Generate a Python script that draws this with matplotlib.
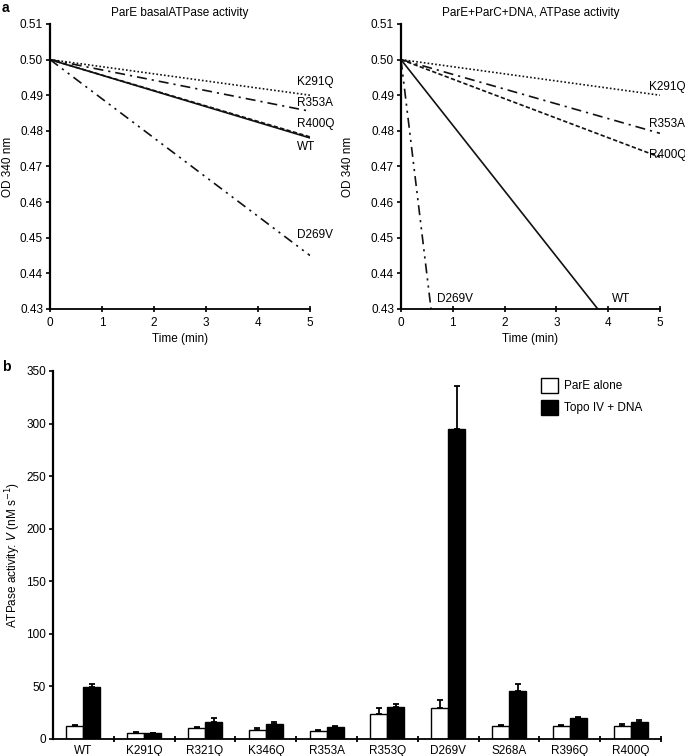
import numpy as np
import matplotlib
matplotlib.use("Agg")
import matplotlib.pyplot as plt

plt.rcParams['font.family'] = ['Liberation Sans', 'DejaVu Sans']
plt.rcParams['font.size'] = 8.5

# panel a data: OD 340 nm vs time (start / end points of each trace)
mutants_a = ['K291Q', 'R353A', 'R400Q', 'WT', 'D269V']
basal_t = {'K291Q': [0, 5], 'R353A': [0, 5], 'R400Q': [0, 5], 'WT': [0, 5], 'D269V': [0, 5]}
basal_od = {'K291Q': [0.50, 0.490], 'R353A': [0.50, 0.4855], 'R400Q': [0.50, 0.4783],
            'WT': [0.50, 0.478], 'D269V': [0.50, 0.445]}
dna_t = {'K291Q': [0, 5], 'R353A': [0, 5], 'R400Q': [0, 5], 'WT': [0, 3.8], 'D269V': [0, 0.58]}
dna_od = {'K291Q': [0.50, 0.490], 'R353A': [0.50, 0.4793], 'R400Q': [0.50, 0.4726],
          'WT': [0.50, 0.43], 'D269V': [0.50, 0.43]}

styles = {'K291Q': (0, (1, 1.3)), 'R353A': (0, (6, 3, 1.3, 3)), 'R400Q': (0, (2.6, 1.4)),
          'WT': '-', 'D269V': (0, (6, 3, 1.3, 3, 1.3, 3))}

# panel b data: ATPase activity V (nM s-1)
mutants_b = ['WT', 'K291Q', 'R321Q', 'K346Q', 'R353A', 'R353Q', 'D269V', 'S268A', 'R396Q', 'R400Q']
pare_alone = [12, 6, 10, 9, 8, 24, 29, 12, 12, 12]
pare_err = [1.5, 1, 1.5, 1.5, 0.5, 5, 8, 1.5, 1.5, 2]
topo_dna = [49, 5.5, 16.5, 14, 11, 30, 295, 46, 20, 16.5]
topo_err = [3, 0.5, 3, 2.5, 1, 3, 41, 6, 1, 2]

fig = plt.figure(figsize=(6.85, 7.56), dpi=100)


def style_axes(ax):
    for s in ['top', 'right']:
        ax.spines[s].set_visible(False)
    ax.spines['left'].set_linewidth(1.6)
    ax.spines['bottom'].set_linewidth(1.3)
    ax.tick_params(axis='y', direction='out', length=3, width=1.2, pad=2, labelsize=8.5)
    ax.tick_params(axis='x', direction='inout', length=4, width=1.2, pad=4, labelsize=8.5)


def od_panel(ax, title, t, od, labpos, ylab_x):
    for m in mutants_a:
        ax.plot(t[m], od[m], color='#111111', lw=1.2, ls=styles[m])
        ax.text(labpos[m][0], labpos[m][1], m, fontsize=8.5, ha='left', va='center')
    ax.set_xlim(0, 5)
    ax.set_ylim(0.43, 0.51)
    yt = np.arange(0.43, 0.5101, 0.01)
    ax.set_yticks(yt)
    ax.set_yticklabels(['%.2f' % v for v in yt])
    ax.set_xticks(range(6))
    ax.set_title(title, fontsize=8.5, pad=6)
    ax.set_xlabel('Time (min)', fontsize=8.5, labelpad=3)
    ax.set_ylabel('OD 340 nm', fontsize=8.5)
    ax.yaxis.set_label_coords(ylab_x, 0.5)
    style_axes(ax)


ax1 = fig.add_axes([0.0730, 0.5913, 0.3796, 0.3770])
od_panel(ax1, 'ParE basalATPase activity', basal_t, basal_od,
         {'K291Q': (4.75, 0.4936), 'R353A': (4.75, 0.4877), 'R400Q': (4.75, 0.4818),
          'WT': (4.75, 0.4754), 'D269V': (4.75, 0.4507)}, -0.138)

ax2 = fig.add_axes([0.5854, 0.5913, 0.3780, 0.3770])
od_panel(ax2, 'ParE+ParC+DNA, ATPase activity', dna_t, dna_od,
         {'K291Q': (4.79, 0.4924), 'R353A': (4.79, 0.4820), 'R400Q': (4.79, 0.4731),
          'WT': (4.07, 0.4327), 'D269V': (0.69, 0.4327)}, -0.181)

# panel b
ax3 = fig.add_axes([0.0774, 0.0225, 0.8876, 0.4868])
x = np.arange(len(mutants_b))
w = 0.28
ekw = dict(lw=1.3, capsize=2.5, capthick=1.3)
ax3.bar(x - w / 2, pare_alone, w, color='white', edgecolor='black', lw=1,
        yerr=[np.zeros(len(x)), pare_err], error_kw=ekw, label='ParE alone')
ax3.bar(x + w / 2, topo_dna, w, color='black', edgecolor='black', lw=1,
        yerr=[np.zeros(len(x)), topo_err], error_kw=ekw, label='Topo IV + DNA')
ax3.set_xlim(-0.5, len(x) - 0.5)
ax3.set_ylim(0, 350)
ax3.set_yticks(range(0, 351, 50))
ax3.set_xticks(x)
ax3.set_xticklabels(mutants_b, fontsize=8.5)
ax3.set_xticks(np.arange(0.5, len(x), 1), minor=True)
ax3.set_ylabel('ATPase activity: $\\it{V}$ (nM s$^{-1}$)', fontsize=8.5)
ax3.yaxis.set_label_coords(-0.05, 0.5)
style_axes(ax3)
ax3.tick_params(axis='x', which='major', length=0, pad=4)
ax3.tick_params(axis='x', which='minor', direction='inout', length=4, width=1.3)
ax3.legend(loc='upper left', bbox_to_anchor=(541 / 685, 1 - 378 / 756),
           bbox_transform=fig.transFigure, frameon=False, fontsize=8.5,
           borderpad=0, borderaxespad=0, handlelength=1.45, handleheight=1.6,
           handletextpad=0.5, labelspacing=0.55)

fig.text(0.003, 0.989, 'a', fontsize=10, fontweight='bold', va='center')
fig.text(0.003, 0.514, 'b', fontsize=10, fontweight='bold', va='center')

fig.savefig('out.png', dpi=100)
